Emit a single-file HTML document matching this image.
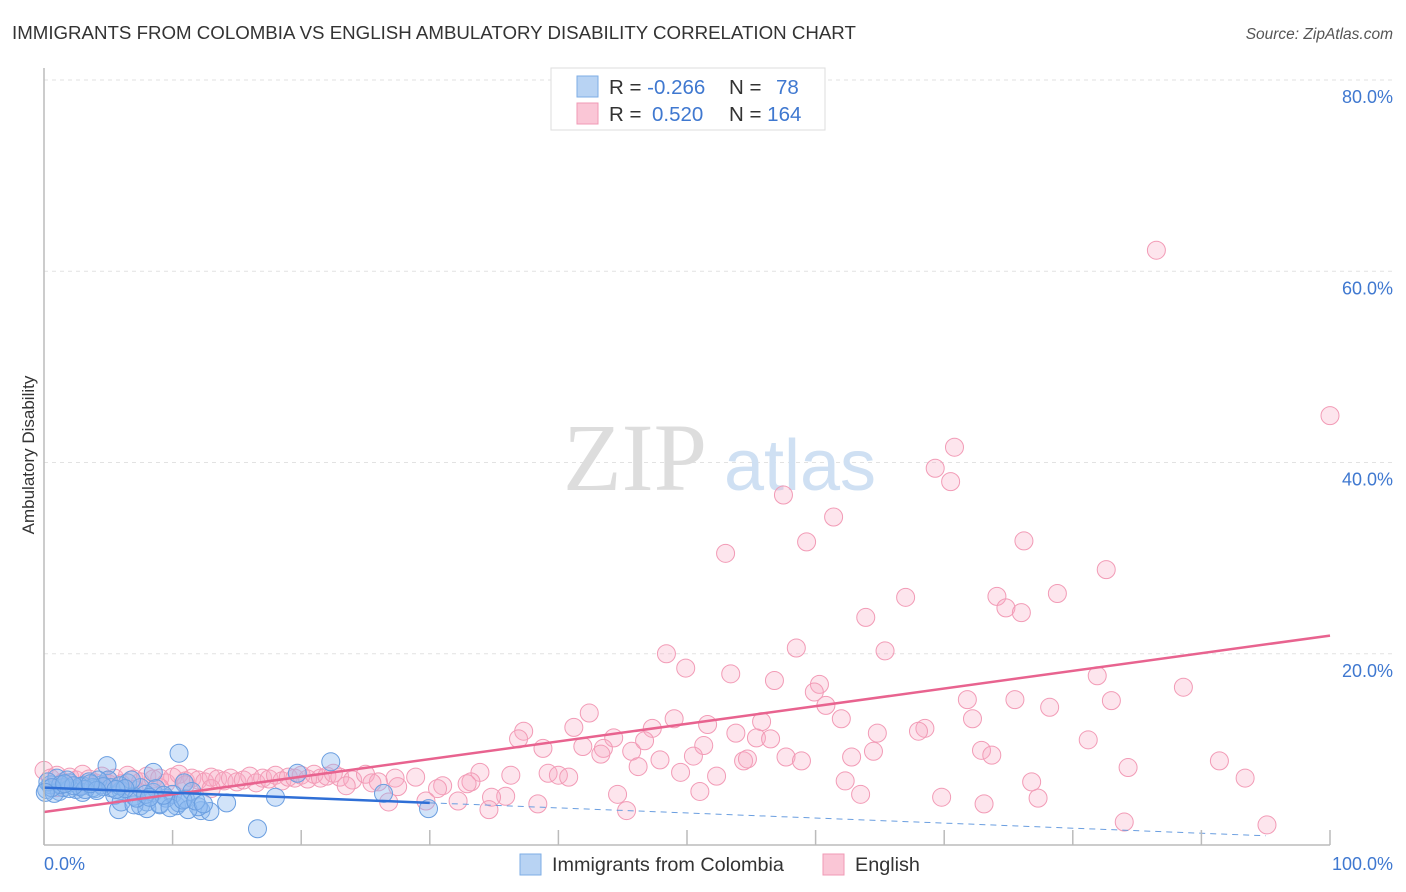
<!DOCTYPE html>
<html><head><meta charset="utf-8">
<style>
body{margin:0;background:#fff;font-family:"Liberation Sans",sans-serif;}
#wrap{position:relative;width:1406px;height:892px;overflow:hidden;}
</style></head>
<body>
<div id="wrap">
<svg id="chart" width="1406" height="892">
<text x="12" y="39" font-size="18.7" fill="#333">IMMIGRANTS FROM COLOMBIA VS ENGLISH AMBULATORY DISABILITY CORRELATION CHART</text>
<text x="1393" y="39" font-size="15.5" fill="#555" font-style="italic" text-anchor="end">Source: ZipAtlas.com</text>
<g id="grid"></g>
<text x="635" y="490" font-size="96" font-family="Liberation Serif,serif" fill="#ddd" text-anchor="middle">ZIP</text>
<text x="800" y="490" font-size="72" fill="#cfe0f3" text-anchor="middle">atlas</text>
<g id="pts"></g>
<g id="lines"></g>
<line x1="44" y1="68" x2="44" y2="845" stroke="#bbb" stroke-width="1.5"/>
<line x1="44" y1="845" x2="1330" y2="845" stroke="#bbb" stroke-width="1.5"/>
<g id="xt"></g>
<text x="44" y="870" font-size="18" fill="#3f78d0">0.0%</text>
<text x="1393" y="870" font-size="18" fill="#3f78d0" text-anchor="end">100.0%</text>
<text transform="translate(34,455) rotate(-90)" font-size="17" fill="#333" text-anchor="middle">Ambulatory Disability</text>
<g>
<rect x="551" y="68" width="274" height="62" fill="#fff" stroke="#ddd"/>
<rect x="577" y="76" width="21" height="21" fill="#b8d3f3" stroke="#7eaee6"/>
<rect x="577" y="103" width="21" height="21" fill="#fac6d6" stroke="#f09ab5"/>
<text x="609" y="94" font-size="20.5" fill="#333">R = <tspan fill="#3f78d0">-0.266</tspan></text>
<text x="729" y="94" font-size="20.5" fill="#333">N = <tspan fill="#3f78d0" x="776">78</tspan></text>
<text x="609" y="121" font-size="20.5" fill="#333">R = <tspan fill="#3f78d0" x="652">0.520</tspan></text>
<text x="729" y="121" font-size="20.5" fill="#333">N = <tspan fill="#3f78d0">164</tspan></text>
</g>
<g>
<rect x="520" y="854" width="21" height="21" fill="#b8d3f3" stroke="#7eaee6"/>
<text x="552" y="871" font-size="19.8" fill="#333">Immigrants from Colombia</text>
</g>
<g>
<rect x="823" y="854" width="21" height="21" fill="#fac6d6" stroke="#f09ab5"/>
<text x="855" y="871" font-size="19.8" fill="#333">English</text>
</g>
</svg>
</div>
<script>
const yTicks=[20,40,60,80];
const yTickLabels=["20.0%","40.0%","60.0%","80.0%"];
const xTicks=[0,10,20,30,40,50,60,70,80,90,100];
const pinkX=[86.5,100,70.8,69.3,70.5,57.5,61.4,53.0,59.3,76.2,82.6,78.8,67.0,74.1,74.8,76.0,63.9,58.5,65.4,48.4,49.9,53.4,56.8,60.3,59.9,81.9,88.6,71.8,75.5,83.0,78.2,60.8,42.4,49.0,62.0,72.2,47.3,51.6,55.8,41.2,37.3,64.8,68.5,68.0,53.8,55.4,56.5,44.3,36.9,81.2,38.8,41.9,43.5,45.7,46.7,43.3,51.3,50.5,72.9,73.7,57.7,58.9,62.8,64.5,54.4,54.7,47.9,46.2,84.3,91.4,93.4,76.8,62.3,52.3,49.5,39.2,40.0,40.8,36.3,33.9,28.9,27.3,33.2,31.0,30.6,51.0,44.6,63.5,69.8,77.3,73.1,35.9,34.8,32.2,29.7,26.8,38.4,34.6,45.3,84.0,95.1,32.9,
0,0.5,1,1.5,2,2.5,3,3.5,4,4.5,5,5.5,6,6.5,7,7.5,8,8.5,9,9.5,10,10.5,11,11.5,12,12.5,13,13.5,14,14.5,15,15.5,16,16.5,17,17.5,18,18.5,19,19.5,20,20.5,21,21.5,22,22.5,23,24,25,26,1,3,5,7,9,11,13,25.5,23.5,27.5];
const pinkY=[62.2,44.9,41.6,39.4,38.0,36.6,34.3,30.5,31.7,31.8,28.8,26.3,25.9,26.0,24.8,24.3,23.8,20.6,20.3,20.0,18.5,17.9,17.2,16.8,16.0,17.7,16.5,15.2,15.2,15.1,14.4,14.6,13.8,13.2,13.2,13.2,12.2,12.6,12.9,12.3,11.9,11.7,12.2,11.9,11.7,11.2,11.1,11.2,11.1,11.0,10.1,10.3,10.1,9.8,10.9,9.5,10.4,9.3,9.9,9.4,9.2,8.8,9.2,9.8,8.8,9.0,8.9,8.2,8.1,8.8,7.0,6.6,6.7,7.2,7.6,7.5,7.3,7.1,7.3,7.6,7.1,7.0,6.6,6.2,5.9,5.6,5.3,5.3,5.0,4.9,4.3,5.1,5.0,4.6,4.6,4.5,4.3,3.7,3.6,2.4,2.1,6.4,
7.8,7.0,7.3,6.6,7.1,6.8,7.4,6.9,6.5,7.2,6.8,7.0,6.4,7.3,6.9,6.6,7.2,6.9,7.0,6.5,7.1,7.4,6.7,7.0,6.8,6.6,7.1,6.9,6.7,7.0,6.6,6.8,7.2,6.5,7.0,6.9,7.3,6.7,7.1,7.0,7.3,6.9,7.4,7.0,7.2,7.5,7.1,6.8,7.4,6.6,6.0,6.2,6.4,5.8,6.0,6.3,5.9,6.5,6.2,6.1];
const blueX=[10.5,4.9,22.3,19.7,8.5,10.9,18.0,14.2,12.2,12.9,16.6,29.9,26.4,5.8,7.5,10.3,0.2,0.5,1,1.2,1.5,2,2.5,3,3.5,4,4.5,5,5.5,6,6.5,7,7.5,8,8.5,9,9.5,10,10.5,11,11.5,12,6,7,8,9,2,3,4.2,5.2,6.8,1.8,0.8,3.8,9.8,11.2,8.7,7.2,0.3,2.8,4.6,1.3,5.9,3.2,6.3,10.8,9.3,0.6,2.3,4.1,7.9,8.2,11.8,12.4,1.6,5.6,3.6,0.1];
const blueY=[9.6,8.3,8.7,7.5,7.6,6.5,5.0,4.4,3.6,3.5,1.7,3.8,5.4,3.7,4.1,4.1,5.8,6.3,7.0,5.6,6.0,6.5,5.8,6.2,6.6,5.9,6.3,6.8,5.2,5.7,6.5,5.1,6.0,4.5,5.5,4.2,4.9,5.3,4.4,4.8,5.6,4.0,4.5,4.2,3.8,4.3,5.9,5.5,6.8,6.0,6.8,6.8,5.4,6.0,3.9,3.7,5.9,4.9,6.6,6.1,6.1,6.3,6.2,5.8,5.9,4.7,5.2,6.0,6.2,5.7,5.3,5.0,4.6,4.3,6.4,5.8,6.4,5.5];
const pinkLine=[3.45,21.9];
const blueLine=[6.0,0.7];
const blueSolidEnd=30;
const NS="http://www.w3.org/2000/svg";
const X=v=>44+v*12.86, Y=v=>845-v*9.5625;
function mk(t,a,p){const e=document.createElementNS(NS,t);for(const k in a)e.setAttribute(k,a[k]);p.appendChild(e);return e;}
const grid=document.getElementById('grid');
yTicks.forEach((t,i)=>{
 const l=mk('line',{x1:44,x2:1393,y1:Y(t),y2:Y(t),stroke:'#e2e2e2','stroke-dasharray':'4,4'},grid);
 
 
 const tx=mk('text',{x:1393,y:Y(t)+23,'font-size':18,fill:'#3f78d0','text-anchor':'end'},grid);
 tx.textContent=yTickLabels[i];
 
 
});
const xt=document.getElementById('xt');
xTicks.forEach(t=>{
 const l=mk('line',{x1:X(t),x2:X(t),y1:830,y2:845,stroke:'#bbb','stroke-width':1.5},xt);
 
 
});
const pts=document.getElementById('pts');
pinkX.forEach((x,i)=>{
 const c=mk('circle',{cx:X(x),cy:Y(pinkY[i]),r:9,fill:'rgba(248,170,195,0.3)',stroke:'#f29bb6','stroke-width':1},pts);
 
 
});
blueX.forEach((x,i)=>{
 const c=mk('circle',{cx:X(x),cy:Y(blueY[i]),r:9,fill:'rgba(140,185,240,0.4)',stroke:'#6a9ee0','stroke-width':1},pts);
 
 
});
const lines=document.getElementById('lines');
const by=v=>blueLine[0]+(blueLine[1]-blueLine[0])*v/100;
const pl=mk('line',{x1:X(0),y1:Y(pinkLine[0]),x2:X(100),y2:Y(pinkLine[1]),stroke:'#e8638f','stroke-width':2.5},lines);


const bs=mk('line',{x1:X(0),y1:Y(by(0)),x2:X(blueSolidEnd),y2:Y(by(blueSolidEnd)),stroke:'#2f6fd6','stroke-width':2.5},lines);


const bd=mk('line',{x1:X(blueSolidEnd),y1:Y(by(blueSolidEnd)),x2:X(95),y2:Y(by(95)),stroke:'#6a9ee0','stroke-width':1,'stroke-dasharray':'6,5'},lines);


</script>
</body></html>
